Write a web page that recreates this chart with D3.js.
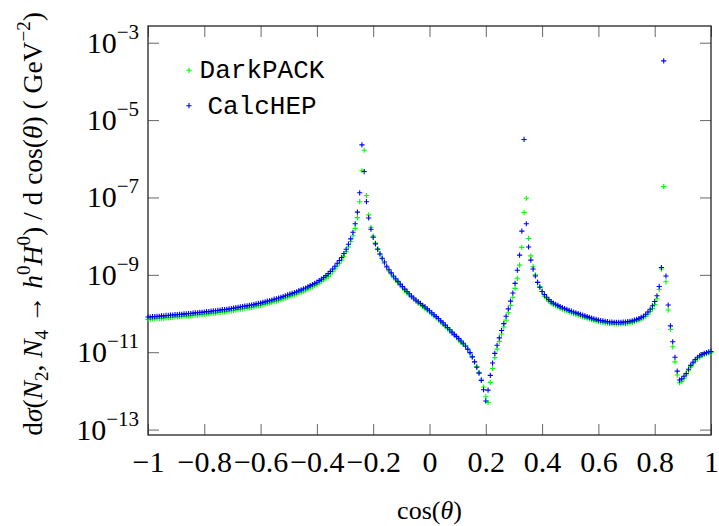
<!DOCTYPE html>
<html lang="en">
<head>
<meta charset="UTF-8">
<title>dsigma / dcos(theta)</title>
<script src="https://d3js.org/d3.v7.min.js"></script>
<style>
  body { margin: 0; background: #fff; }
  svg text { font-family: "Liberation Serif", "DejaVu Serif", serif; fill: #000; }
  .legend-label { font-family: "Liberation Mono", "Courier New", Courier, "Nimbus Mono PS", "DejaVu Sans Mono", monospace; }
</style>
</head>
<body>
<svg id="chart" width="719" height="526"></svg>
<script>
// cos(theta) sampling grid: -1 .. 1 in steps of 0.008 (251 points)
const cosStart = -1, cosStep = 0.008, nPoints = 251;

// log10( dsigma / dcos(theta) ), one value per grid point
const darkpackLog = [
  -10.15,-10.15,-10.14,-10.14,-10.13,-10.13,-10.12,-10.12,-10.11,-10.11,
  -10.10,-10.10,-10.09,-10.09,-10.08,-10.08,-10.07,-10.07,-10.06,-10.06,
  -10.05,-10.04,-10.04,-10.03,-10.03,-10.02,-10.01,-10.01,-10.00,-9.99,
  -9.99,-9.98,-9.97,-9.96,-9.96,-9.95,-9.94,-9.93,-9.92,-9.91,
  -9.90,-9.89,-9.88,-9.87,-9.86,-9.85,-9.84,-9.83,-9.81,-9.80,
  -9.79,-9.77,-9.76,-9.74,-9.73,-9.71,-9.69,-9.68,-9.66,-9.64,
  -9.62,-9.60,-9.58,-9.56,-9.54,-9.52,-9.50,-9.47,-9.45,-9.42,
  -9.40,-9.37,-9.34,-9.31,-9.28,-9.25,-9.21,-9.17,-9.13,-9.08,
  -9.04,-8.98,-8.92,-8.85,-8.77,-8.70,-8.62,-8.52,-8.40,-8.28,
  -8.14,-7.99,-7.80,-7.52,-7.11,-6.31,-5.78,-6.95,-7.45,-7.77,
  -8.00,-8.18,-8.33,-8.46,-8.58,-8.70,-8.81,-8.90,-8.98,-9.06,
  -9.13,-9.20,-9.27,-9.33,-9.40,-9.46,-9.52,-9.58,-9.63,-9.68,
  -9.73,-9.77,-9.82,-9.86,-9.91,-9.96,-10.01,-10.06,-10.11,-10.16,
  -10.22,-10.27,-10.33,-10.39,-10.45,-10.51,-10.57,-10.62,-10.68,-10.74,
  -10.80,-10.85,-10.93,-11.02,-11.12,-11.24,-11.37,-11.52,-11.70,-11.90,
  -12.15,-12.30,-11.78,-11.42,-11.14,-10.92,-10.72,-10.53,-10.35,-10.17,
  -9.98,-9.79,-9.58,-9.35,-9.09,-8.75,-8.29,-7.39,-7.02,-8.06,
  -8.51,-8.79,-9.00,-9.18,-9.31,-9.43,-9.55,-9.62,-9.68,-9.73,
  -9.77,-9.80,-9.83,-9.86,-9.89,-9.91,-9.93,-9.96,-9.98,-10.00,
  -10.02,-10.04,-10.06,-10.08,-10.10,-10.12,-10.14,-10.16,-10.18,-10.19,
  -10.21,-10.22,-10.23,-10.24,-10.25,-10.26,-10.26,-10.27,-10.27,-10.27,
  -10.27,-10.26,-10.26,-10.25,-10.24,-10.23,-10.21,-10.19,-10.17,-10.14,
  -10.11,-10.07,-10.02,-9.95,-9.87,-9.77,-9.62,-9.38,-8.85,-6.72,
  -9.18,-9.91,-10.41,-10.86,-11.25,-11.59,-11.79,-11.76,-11.68,-11.59,
  -11.48,-11.38,-11.30,-11.23,-11.17,-11.12,-11.09,-11.06,-11.04,-11.02,-11.01
];
const calchepLog = [
  -10.09,-10.09,-10.08,-10.08,-10.07,-10.07,-10.06,-10.06,-10.05,-10.05,
  -10.04,-10.04,-10.03,-10.03,-10.02,-10.02,-10.01,-10.01,-10.00,-10.00,
  -9.99,-9.98,-9.98,-9.97,-9.97,-9.96,-9.95,-9.95,-9.94,-9.93,
  -9.93,-9.92,-9.91,-9.90,-9.90,-9.89,-9.88,-9.87,-9.86,-9.85,
  -9.84,-9.83,-9.82,-9.81,-9.80,-9.79,-9.78,-9.77,-9.75,-9.74,
  -9.73,-9.71,-9.70,-9.68,-9.67,-9.65,-9.63,-9.62,-9.60,-9.58,
  -9.56,-9.54,-9.52,-9.50,-9.48,-9.46,-9.44,-9.41,-9.39,-9.36,
  -9.34,-9.31,-9.28,-9.25,-9.22,-9.19,-9.15,-9.11,-9.07,-9.02,
  -8.97,-8.91,-8.85,-8.78,-8.70,-8.63,-8.55,-8.45,-8.34,-8.21,
  -8.07,-7.90,-7.68,-7.38,-6.88,-5.64,-6.33,-7.11,-7.53,-7.82,
  -8.03,-8.20,-8.34,-8.46,-8.57,-8.67,-8.78,-8.87,-8.95,-9.03,
  -9.10,-9.17,-9.24,-9.30,-9.37,-9.43,-9.49,-9.55,-9.60,-9.65,
  -9.70,-9.74,-9.79,-9.83,-9.88,-9.93,-9.98,-10.03,-10.08,-10.13,
  -10.19,-10.24,-10.30,-10.36,-10.42,-10.48,-10.54,-10.59,-10.65,-10.71,
  -10.77,-10.84,-10.92,-11.01,-11.12,-11.25,-11.39,-11.54,-11.73,-11.97,
  -12.26,-11.98,-11.60,-11.28,-11.03,-10.82,-10.63,-10.44,-10.26,-10.07,
  -9.88,-9.68,-9.47,-9.22,-8.88,-8.49,-7.87,-5.50,-7.68,-8.28,
  -8.62,-8.85,-9.03,-9.20,-9.32,-9.43,-9.51,-9.58,-9.64,-9.69,
  -9.73,-9.76,-9.79,-9.82,-9.85,-9.87,-9.89,-9.92,-9.94,-9.96,
  -9.98,-10.00,-10.02,-10.04,-10.06,-10.08,-10.10,-10.12,-10.14,-10.15,
  -10.17,-10.18,-10.19,-10.20,-10.21,-10.22,-10.22,-10.23,-10.23,-10.23,
  -10.23,-10.22,-10.22,-10.21,-10.20,-10.19,-10.17,-10.15,-10.13,-10.10,
  -10.07,-10.02,-9.96,-9.89,-9.80,-9.69,-9.54,-9.30,-8.81,-3.47,
  -9.03,-9.78,-10.32,-10.73,-11.13,-11.49,-11.72,-11.69,-11.62,-11.55,
  -11.44,-11.34,-11.26,-11.19,-11.13,-11.09,-11.06,-11.03,-11.01,-10.99,-10.98
];

const xTicks = [-1, -0.8, -0.6, -0.4, -0.2, 0, 0.2, 0.4, 0.6, 0.8, 1];
const yTickExps = [-3, -5, -7, -9, -11, -13];
const seriesNames = ["DarkPACK", "CalcHEP"];
const seriesColors = ["#00ff00", "#0000ff"];

const cosGrid = d3.range(nPoints).map(i => cosStart + i * cosStep);
const series = [darkpackLog, calchepLog].map((vals, s) => ({
  name: seriesNames[s],
  color: seriesColors[s],
  points: vals.map((e, i) => ({ x: cosGrid[i], y: Math.pow(10, e) }))
}));

// plot box
const plotL = 148, plotR = 711, plotT = 26, plotB = 435;
const serif = '"Liberation Serif", "DejaVu Serif", serif';

const svg = d3.select("#chart");

const x = d3.scaleLinear().domain([-1, 1]).range([plotL, plotR]);
const y = d3.scaleLog().domain([Math.pow(10, -13.14), Math.pow(10, -2.568)]).range([plotB, plotT]);

const fmtX = d => d === 0 ? "0" : (d < 0 ? "\u2212" : "") + Math.abs(d);

// axes: ticks point inward on all four sides
const gBottom = svg.append("g").attr("transform", `translate(0,${plotB})`)
  .call(d3.axisBottom(x).tickValues(xTicks).tickSizeInner(-11).tickSizeOuter(0).tickPadding(16).tickFormat(fmtX));
const gTop = svg.append("g").attr("transform", `translate(0,${plotT})`)
  .call(d3.axisTop(x).tickValues(xTicks).tickSizeInner(-11).tickSizeOuter(0).tickFormat(""));
const yTickVals = yTickExps.map(e => Math.pow(10, e));
const gLeft = svg.append("g").attr("transform", `translate(${plotL},0)`)
  .call(d3.axisLeft(y).tickValues(yTickVals).tickSizeInner(-11).tickSizeOuter(0).tickFormat(""));
const gRight = svg.append("g").attr("transform", `translate(${plotR},0)`)
  .call(d3.axisRight(y).tickValues(yTickVals).tickSizeInner(-11).tickSizeOuter(0).tickFormat(""));

[gBottom, gTop, gLeft, gRight].forEach(g => {
  g.select(".domain").remove();
  g.attr("font-family", serif).attr("font-size", 30);
  g.selectAll(".tick line").attr("stroke", "#666").attr("stroke-width", 1);
});
gBottom.selectAll(".tick text")
  .attr("font-family", serif)
  .style("font-family", serif)
  .style("font-size", "30px")
  .attr("fill", "#000");

// y tick labels 10^e
yTickExps.forEach(e => {
  const t = svg.append("text")
    .attr("x", plotL - 9)
    .attr("y", y(Math.pow(10, e)) + 10)
    .attr("text-anchor", "end")
    .style("font-size", "30px");
  t.append("tspan").text("10");
  t.append("tspan").attr("dy", -14).style("font-size", "21px").text("\u2212" + Math.abs(e));
});

// frame
svg.append("rect")
  .attr("x", plotL).attr("y", plotT)
  .attr("width", plotR - plotL).attr("height", plotB - plotT)
  .attr("fill", "none").attr("stroke", "#222").attr("stroke-width", 1.3);

// markers: "+"
const plus = "M-2.6,0H2.6M0,-2.6V2.6";
series.forEach(s => {
  svg.append("g").selectAll("path")
    .data(s.points)
    .join("path")
    .attr("d", plus)
    .attr("transform", d => `translate(${x(d.x)},${y(d.y)})`)
    .attr("fill", "none")
    .attr("stroke", s.color)
    .attr("stroke-width", 1.1);
});

// legend
series.forEach((s, i) => {
  const ly = 70.3 + i * 35.4;
  svg.append("path").attr("d", plus)
    .attr("transform", `translate(189,${ly})`)
    .attr("stroke", s.color).attr("stroke-width", 1.1).attr("fill", "none");
  svg.append("text")
    .attr("class", "legend-label")
    .attr("x", 262).attr("y", ly + 8)
    .attr("text-anchor", "middle")
    .style("font-size", "26px")
    .text(s.name);
});

// rich text helper: parts [text, italic, shift, size]
function richText(sel, parts) {
  let cur = 0;
  parts.forEach(([txt, it, shift, size]) => {
    const sh = shift || 0;
    const ts = sel.append("tspan").text(txt);
    if (sh !== cur) { ts.attr("dy", sh - cur); cur = sh; }
    if (it) ts.style("font-style", "italic");
    if (size) ts.style("font-size", size + "px");
  });
}

// x label
const xl = svg.append("text")
  .attr("x", (plotL + plotR) / 2).attr("y", 519)
  .attr("text-anchor", "middle").style("font-size", "26px");
richText(xl, [["cos("], ["\u03b8", true], [")"]]);

// y label
const yl = svg.append("text")
  .attr("transform", "translate(42,224) rotate(-90)")
  .attr("text-anchor", "middle").style("font-size", "27.5px");
richText(yl, [
  ["d"], ["\u03c3", true], ["("], ["N", true], ["2", false, 6, 19], [", "],
  ["N", true], ["4", false, 6, 19], [" \u2192 "], ["h", true], ["0", false, -12, 19],
  ["H", true], ["0", false, -12, 19], [") / d cos("], ["\u03b8", true], [") ( GeV"],
  ["\u22122", false, -12, 19], [")"]
]);
</script>
</body>
</html>
